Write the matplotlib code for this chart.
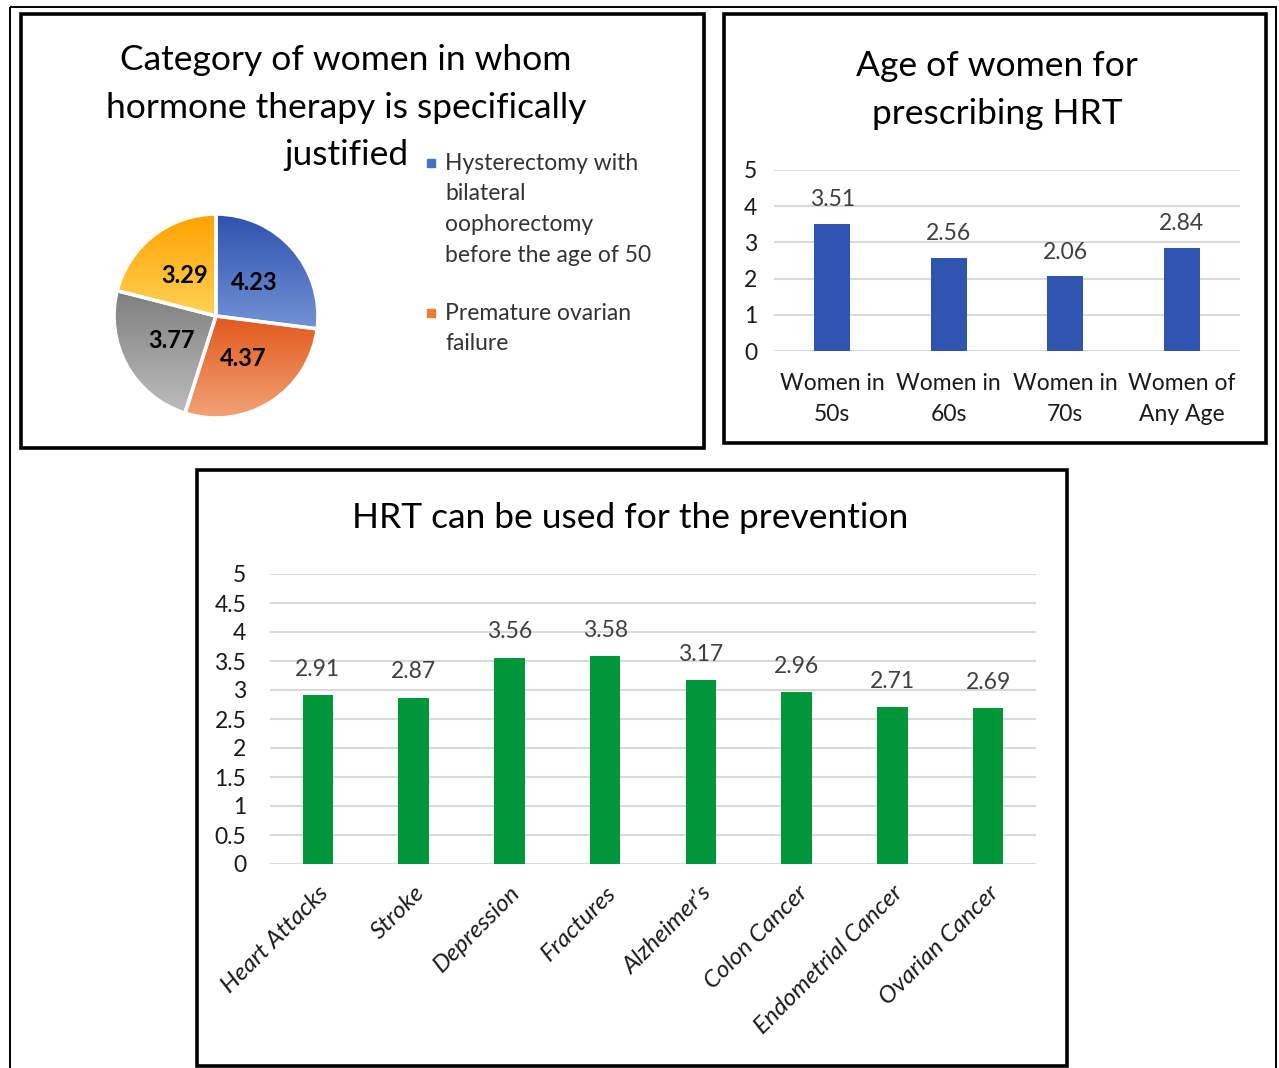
import numpy as np
import matplotlib.pyplot as plt
import matplotlib.transforms as mtransforms
from matplotlib.patches import Rectangle
from matplotlib.colors import LinearSegmentedColormap

plt.rcParams['font.family'] = ['Lato', 'DejaVu Sans']

# Datos del grafico circular
pie_values = [4.23, 4.37, 3.77, 3.29]
pie_top_colors = ['#2E51AE', '#E2581C', '#7F7F7F', '#FFA200']
pie_bottom_colors = ['#7393D6', '#F2A376', '#BDBDBD', '#FFD255']
legend_labels = [["Hysterectomy with", "bilateral", "oophorectomy", "before the age of 50"],
                 ["Premature ovarian", "failure"]]
legend_colors = ['#4472C4', '#ED7D31']

# Datos de edad
age_groups = ["Women in\n50s", "Women in\n60s", "Women in\n70s", "Women of\nAny Age"]
age_values = [3.51, 2.56, 2.06, 2.84]

# Datos de prevencion
prevention = ["Heart Attacks", "Stroke", "Depression", "Fractures", "Alzheimer’s",
              "Colon Cancer", "Endometrial Cancer", "Ovarian Cancer"]
prevention_values = [2.91, 2.87, 3.56, 3.58, 3.17, 2.96, 2.71, 2.69]

W, H = 1279, 1068
fig = plt.figure(figsize=(W / 100, H / 100), dpi=100)


def px_axes(x0, y0, x1, y1):
    return fig.add_axes([x0 / W, 1 - y1 / H, (x1 - x0) / W, (y1 - y0) / H])


# capa de fondo: marcos, titulos y leyenda en pixeles
bg = px_axes(0, 0, W, H)
bg.set_xlim(0, W)
bg.set_ylim(H, 0)
bg.axis('off')
bg.add_patch(Rectangle((10, 7), 1266, 1100, fill=False, lw=1.4, ec='black'))
for (x0, y0, x1, y1) in [(21, 14, 704, 448), (724, 14, 1266, 443), (197, 470, 1067, 1066)]:
    bg.add_patch(Rectangle((x0, y0), x1 - x0, y1 - y0, fill=False, lw=2.6, ec='black'))

title_kw = dict(ha='center', va='center', fontsize=25.5, color='black')
for i, line in enumerate(["Category of women in whom", "hormone therapy is specifically", "justified"]):
    bg.text(346, 60 + i * 47.5, line, **title_kw)
for i, line in enumerate(["Age of women for", "prescribing HRT"]):
    bg.text(997, 66 + i * 47.5, line, **title_kw)
bg.text(630, 518, "HRT can be used for the prevention", **title_kw)

# leyenda manual (el marcador va en la primera linea)
leg_y = [163, 313]
for lines, col, y0 in zip(legend_labels, legend_colors, leg_y):
    bg.add_patch(Rectangle((427, y0 - 4), 8, 8, color=col))
    for j, line in enumerate(lines):
        bg.text(445, y0 + j * 30.7, line, ha='left', va='center', fontsize=16.5, color='#333333')

# grafico circular con degradado
axp = px_axes(112, 212, 320, 420)
wedges, _, autotexts = axp.pie(
    pie_values, startangle=90, counterclock=False, radius=1,
    autopct=lambda p: f"{p * sum(pie_values) / 100:.2f}", pctdistance=0.5,
    wedgeprops=dict(edgecolor='white', linewidth=2.5),
    textprops=dict(fontsize=17, fontweight='bold', color='black'))
for w, c0, c1 in zip(wedges, pie_top_colors, pie_bottom_colors):
    bb = w.get_path().get_extents()
    cmap = LinearSegmentedColormap.from_list('g', [c0, c1])
    im = axp.imshow(np.linspace(0, 1, 256).reshape(-1, 1), cmap=cmap, aspect='auto',
                    extent=[bb.x0, bb.x1, bb.y0, bb.y1], origin='upper', zorder=0.5)
    im.set_clip_path(w)
    w.set_facecolor('none')
for t in autotexts:
    t.set_zorder(5)
axp.set_xlim(-1.02, 1.02)
axp.set_ylim(-1.02, 1.02)
axp.set_aspect('equal')
axp.axis('off')

# barras por edad
ax2 = px_axes(774, 170, 1240, 351)
ax2.set_facecolor('none')
bars = ax2.bar(range(len(age_values)), age_values, width=0.31, color='#2F55B0', zorder=3)
ax2.bar_label(bars, fmt='%.2f', padding=10, fontsize=16.5, color='#404040')
ax2.set_xlim(-0.5, len(age_values) - 0.5)
ax2.set_ylim(0, 5)
ax2.set_yticks(range(6))
ax2.set_xticks(range(len(age_groups)))
ax2.set_xticklabels(age_groups, fontsize=16.5, color='#1A1A1A', linespacing=1.55)
ax2.tick_params(axis='y', labelsize=16.5, labelcolor='#1A1A1A', length=0, pad=12)
ax2.tick_params(axis='x', length=0, pad=16)
ax2.yaxis.grid(True, color='#D9D9D9', lw=1.5)
for s in ax2.spines.values():
    s.set_visible(False)

# barras de prevencion
ax3 = px_axes(270, 574, 1036, 864)
ax3.set_facecolor('none')
bars3 = ax3.bar(range(len(prevention_values)), prevention_values, width=0.32, color='#00963A', zorder=3)
ax3.bar_label(bars3, fmt='%.2f', padding=11, fontsize=16.5, color='#404040')
ax3.set_xlim(-0.5, len(prevention_values) - 0.5)
ax3.set_ylim(0, 5)
ax3.set_yticks(np.arange(0, 5.01, 0.5))
ax3.set_yticklabels([f"{v:g}" for v in np.arange(0, 5.01, 0.5)])
ax3.set_xticks(range(len(prevention)))
ax3.set_xticklabels(prevention, rotation=45, ha='right', rotation_mode='anchor',
                    fontsize=17.5, fontstyle='italic', color='#1A1A1A')
shift = mtransforms.ScaledTranslation(-0.06, 0, fig.dpi_scale_trans)
for lab in ax3.get_xticklabels():
    lab.set_transform(lab.get_transform() + shift)
ax3.tick_params(axis='y', labelsize=16.5, labelcolor='#1A1A1A', length=0, pad=17)
ax3.tick_params(axis='x', length=0, pad=13)
ax3.yaxis.grid(True, color='#D9D9D9', lw=1.5)
for s in ax3.spines.values():
    s.set_visible(False)

fig.savefig('out.png', dpi=100)
